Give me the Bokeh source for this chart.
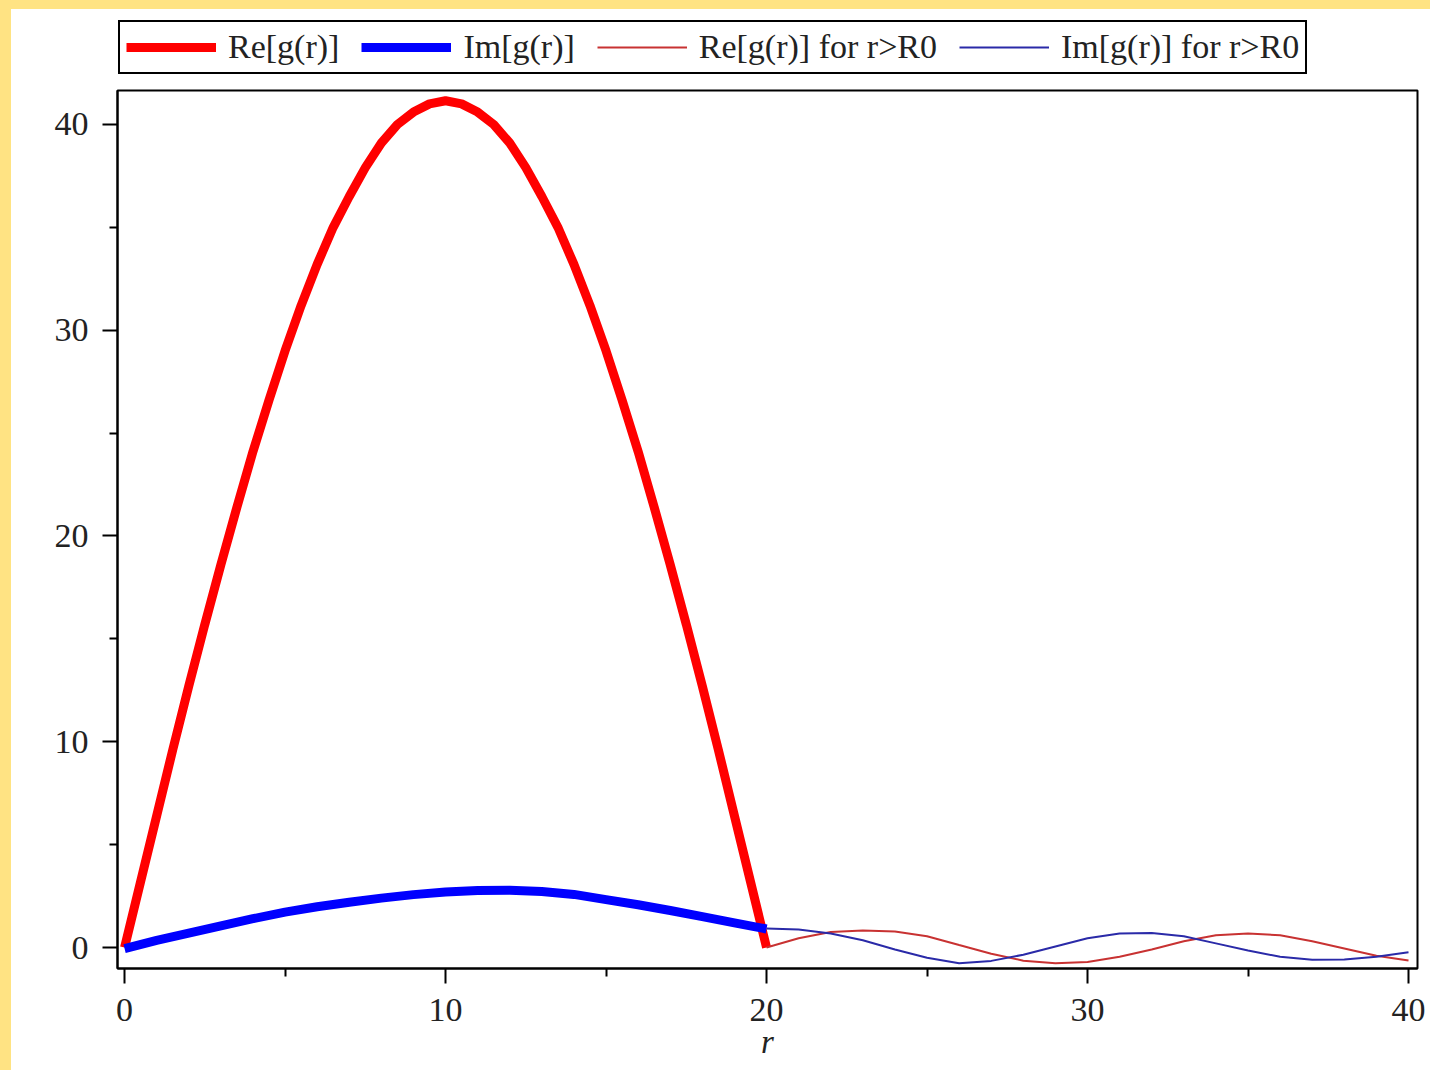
from bokeh.plotting import figure
from bokeh.models import Range1d, FixedTicker, Legend, LegendItem, Spacer
from bokeh.layouts import column, row
from bokeh.embed import file_html
from bokeh.resources import INLINE

# ---- data ----
r_inner_re = [0, 0.5, 1, 1.5, 2, 2.5, 3, 3.5, 4, 4.5, 5, 5.5, 6, 6.5, 7, 7.5, 8, 8.5, 9, 9.5,
              10, 10.5, 11, 11.5, 12, 12.5, 13, 13.5, 14, 14.5, 15, 15.5, 16, 16.5, 17, 17.5,
              18, 18.5, 19, 19.5, 20]
re_inner = [0, 3.2, 6.4, 9.6, 12.7, 15.7, 18.6, 21.4, 24.1, 26.6, 29.0, 31.2, 33.2, 35.0, 36.5,
            37.9, 39.1, 40.0, 40.6, 41.0, 41.15, 41.0, 40.6, 40.0, 39.1, 37.9, 36.5, 35.0, 33.2,
            31.2, 29.0, 26.6, 24.1, 21.4, 18.6, 15.7, 12.7, 9.6, 6.4, 3.2, 0]

r_inner_im = [0, 1, 2, 3, 4, 5, 6, 7, 8, 9, 10, 11, 12, 13, 14, 15, 16, 17, 18, 19, 20]
im_inner = [-0.05, 0.35, 0.7, 1.05, 1.4, 1.72, 1.98, 2.2, 2.4, 2.57, 2.7, 2.77, 2.78, 2.72,
            2.58, 2.33, 2.08, 1.8, 1.5, 1.2, 0.9]

r_outer = [20, 21, 22, 23, 24, 25, 26, 27, 28, 29, 30, 31, 32, 33, 34, 35, 36, 37, 38, 39, 40]
re_outer = [0, 0.45, 0.75, 0.83, 0.78, 0.55, 0.12, -0.3, -0.64, -0.76, -0.7, -0.45, -0.1,
            0.3, 0.6, 0.68, 0.6, 0.3, -0.05, -0.4, -0.63]
im_outer = [0.92, 0.88, 0.68, 0.35, -0.1, -0.5, -0.76, -0.65, -0.35, 0.05, 0.45, 0.68, 0.7,
            0.55, 0.2, -0.15, -0.45, -0.6, -0.58, -0.45, -0.23]

x_ticks = [0, 10, 20, 30, 40]
x_minor = [5, 15, 25, 35]
y_ticks = [0, 10, 20, 30, 40]
y_minor = [5, 15, 25, 35]

legend_labels = ["Re[g(r)]", "Im[g(r)]", "Re[g(r)] for r>R0", "Im[g(r)] for r>R0"]
series = [(r_inner_re, re_inner), (r_inner_im, im_inner), (r_outer, re_outer), (r_outer, im_outer)]
series_colors = ["#ff0000", "#0000ff", "#c83232", "#2a2aa8"]
series_widths = [9, 9, 2, 2]

FONT = "Liberation Serif"
YELLOW = "#ffe383"
W = 1419
H_LEG = 76
H_MAIN = 1061 - H_LEG

# ---- main plot ----
p = figure(width=W, height=H_MAIN,
           x_range=Range1d(-0.22, 40.28), y_range=Range1d(-1.02, 41.65),
           output_backend="svg", toolbar_location=None,
           min_border_left=106, min_border_right=13, min_border_top=5, min_border_bottom=102,
           background_fill_color="white", border_fill_color="white")

p.xgrid.visible = False
p.ygrid.visible = False
p.outline_line_color = "black"
p.outline_line_width = 2
p.outline_line_alpha = 1

for ax, tk, mn in ((p.xaxis, x_ticks, x_minor), (p.yaxis, y_ticks, y_minor)):
    ax.ticker = FixedTicker(ticks=tk, minor_ticks=mn)
    ax.axis_line_color = "black"
    ax.axis_line_width = 2
    ax.major_tick_line_color = "black"
    ax.major_tick_line_width = 2
    ax.minor_tick_line_color = "black"
    ax.minor_tick_line_width = 2
    ax.major_tick_in = 0
    ax.major_tick_out = 15
    ax.minor_tick_in = 0
    ax.minor_tick_out = 8
    ax.major_label_text_font = FONT
    ax.major_label_text_font_size = "34px"
    ax.major_label_text_color = "#222222"

p.yaxis.major_label_standoff = 14
p.xaxis.major_label_standoff = 15
p.xaxis.axis_label = "r"
p.xaxis.axis_label_text_font = FONT
p.xaxis.axis_label_text_font_style = "italic"
p.xaxis.axis_label_text_font_size = "33px"
p.xaxis.axis_label_text_color = "#222222"
p.xaxis.axis_label_standoff = 0

for (xs, ys), col, lw in zip(series, series_colors, series_widths):
    p.line(xs, ys, line_color=col, line_width=lw)

# ---- legend strip above the plot frame (same series, view range set so lines stay out of sight) ----
lf = figure(width=W, height=H_LEG, x_range=Range1d(1000, 1001), y_range=Range1d(1000, 1001),
            output_backend="svg", toolbar_location=None,
            x_axis_type=None, y_axis_type=None,
            min_border_left=0, min_border_right=0, min_border_top=0, min_border_bottom=0,
            background_fill_color="white", border_fill_color="white")
lf.xgrid.visible = False
lf.ygrid.visible = False
lf.outline_line_color = None

items = []
for lab, (xs, ys), col, lw in zip(legend_labels, series, series_colors, series_widths):
    rr = lf.line(xs, ys, line_color=col, line_width=lw)
    items.append(LegendItem(label=lab, renderers=[rr]))

legend = Legend(
    items=items,
    orientation="horizontal",
    location=(1, 11),
    label_text_font=FONT, label_text_font_size="34px", label_text_color="#222222",
    glyph_width=90, glyph_height=30, label_standoff=12, spacing=22, padding=6,
    border_line_color="black", border_line_width=2, border_line_alpha=1,
    background_fill_color="white", background_fill_alpha=1, margin=0,
)
lf.add_layout(legend)

top_band = Spacer(width=1430, height=9, styles={"background-color": YELLOW})
left_band = Spacer(width=11, height=1061, styles={"background-color": YELLOW})
layout = column(top_band,
                row(left_band, column(lf, p, spacing=0), spacing=0),
                spacing=0)

open("out.html", "w").write(file_html(layout, INLINE))
